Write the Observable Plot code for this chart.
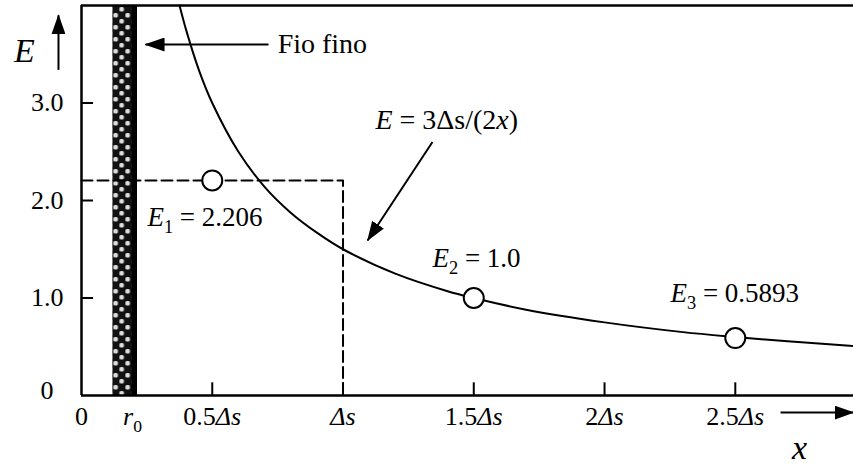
<!DOCTYPE html>
<html>
<head>
<meta charset="utf-8">
<script src="https://cdn.jsdelivr.net/npm/d3@7"></script>
<script src="https://cdn.jsdelivr.net/npm/@observablehq/plot@0.6"></script>
<style>
  body { margin: 0; background: #fff; }
  svg text, svg tspan { font-family: "Liberation Serif", "DejaVu Serif", serif !important; }
</style>
</head>
<body>
<div id="chart"></div>
<script>
// Field E around a thin wire: the curve E = 3Δs/(2x) and three sampled values.
// x is measured in units of Δs.
const curveX = [0.375, 0.4, 0.45, 0.5, 0.6, 0.7, 0.8, 0.9, 1.0, 1.2, 1.4, 1.5, 1.7, 2.0, 2.3, 2.5, 2.7, 2.95];
const curveE = [4.0, 3.75, 3.33, 3.0, 2.5, 2.14, 1.875, 1.67, 1.5, 1.25, 1.07, 1.0, 0.88, 0.75, 0.65, 0.6, 0.556, 0.508];

const sampleX = [0.5, 1.5, 2.5];
const sampleE = [2.206, 1.0, 0.5893];
const sampleLabels = ["*E*_1 = 2.206", "*E*_2 = 1.0", "*E*_3 = 0.5893"];
const sampleLabelX = [0.252, 1.342, 2.252];
const sampleLabelY = [1.83, 1.41, 1.05];

// dashed box: E1 held over the first cell 0..Δs
const boxX = [0, 1, 1];
const boxE = [2.206, 2.206, 0];

// the wire cross-section band
const wireX = [0.12, 0.214];

const xTicks = [0, 0.195, 0.5, 1, 1.5, 2, 2.5];
const xTickLabels = ["0", "*r*_0", "0.5*Δs*", "*Δs*", "1.5*Δs*", "2*Δs*", "2.5*Δs*"];
const xTickMarks = [0.5, 1, 1.5, 2, 2.5];
const yTicks = [1, 2, 3];
const yTickLabels = ["1.0", "2.0", "3.0"];

// annotation arrows: wire label, formula label, E axis, x axis
const arrowX1 = [0.715, 1.342, -0.088, 2.673];
const arrowY1 = [3.6, 2.6, 3.34, -0.175];
const arrowX2 = [0.245, 1.094, -0.088, 2.952];
const arrowY2 = [3.6, 1.59, 3.9, -0.175];

const serif = "Liberation Serif";
const xLabelOf = new Map(xTicks.map((t, i) => [t, xTickLabels[i]]));
const yLabelOf = new Map(yTicks.map((t, i) => [t, yTickLabels[i]]));
const curve = curveX.map((x, i) => ({x, E: curveE[i]}));
const samples = sampleX.map((x, i) => ({x, E: sampleE[i]}));
const sampleText = sampleLabels.map((t, i) => ({t, x: sampleLabelX[i], y: sampleLabelY[i]}));
const box = boxX.map((x, i) => ({x, E: boxE[i]}));
const arrows = arrowX1.map((x1, i) => ({x1, y1: arrowY1[i], x2: arrowX2[i], y2: arrowY2[i]}));

const svg = Plot.plot({
  width: 853,
  height: 468,
  marginLeft: 81,
  marginRight: 0,
  marginTop: 5,
  marginBottom: 73,
  x: {domain: [0, 2.952], axis: null},
  y: {domain: [0, 4], axis: null},
  style: {fontFamily: serif, fontSize: "26px", color: "black", background: "white", overflow: "visible"},
  marks: [
    Plot.rect([{x1: wireX[0], x2: wireX[1]}], {x1: "x1", x2: "x2", y1: 0, y2: 4, fill: "black", ariaDescription: "wire"}),
    Plot.rect([{x1: wireX[1] - 0.022, x2: wireX[1]}], {x1: "x1", x2: "x2", y1: 0, y2: 4, fill: "black"}),
    Plot.ruleY([0, 4], {stroke: "black", strokeWidth: 2.5}),
    Plot.ruleX([0], {y1: 0, y2: 4, stroke: "black", strokeWidth: 2.5}),
    Plot.ruleY(yTicks, {x1: 0, x2: 0.046, stroke: "black", strokeWidth: 2}),
    Plot.ruleX(xTickMarks, {y1: 0, y2: 0.13, stroke: "black", strokeWidth: 2}),
    Plot.axisX(xTicks, {tickSize: 0, tickPadding: 11, tickFormat: d => xLabelOf.get(d), label: null, fontSize: 26, fontFamily: serif}),
    Plot.axisY(yTicks, {tickSize: 0, tickPadding: 18, tickFormat: d => yLabelOf.get(d), label: null, fontSize: 26, fontFamily: serif}),
    Plot.axisY([0], {tickSize: 0, tickPadding: 28, tickFormat: () => "0", label: null, fontSize: 26, fontFamily: serif, dy: -5}),
    Plot.line(box, {x: "x", y: "E", stroke: "black", strokeWidth: 2, strokeDasharray: "11,5"}),
    Plot.line(curve, {x: "x", y: "E", stroke: "black", strokeWidth: 2, curve: "catmull-rom"}),
    Plot.dot(samples, {x: "x", y: "E", r: 10, fill: "white", stroke: "black", strokeWidth: 2}),
    Plot.text(sampleText, {x: "x", y: "y", text: "t", textAnchor: "start", fontSize: 27, fontFamily: serif}),
    Plot.text(["Fio fino"], {x: 0.75, y: 3.6, textAnchor: "start", fontSize: 28, fontFamily: serif}),
    Plot.text(["*E* = 3Δs/(2*x*)"], {x: 1.124, y: 2.83, textAnchor: "start", fontSize: 28, fontFamily: serif}),
    Plot.text(["E"], {x: -0.218, y: 3.53, fontSize: 34, fontStyle: "italic", fontFamily: serif}),
    Plot.text(["x"], {x: 2.746, y: -0.54, fontSize: 34, fontStyle: "italic", fontFamily: serif}),
    Plot.link(arrows, {x1: "x1", y1: "y1", x2: "x2", y2: "y2", stroke: "black", strokeWidth: 2, ariaDescription: "arrows"})
  ]
});

// Shared defs: filled arrowhead and the checkered wire fill
const defs = d3.select(svg).insert("defs", ":first-child");
defs.append("marker")
  .attr("id", "head")
  .attr("viewBox", "0 0 20 14")
  .attr("refX", 19).attr("refY", 7)
  .attr("markerWidth", 20).attr("markerHeight", 14)
  .attr("markerUnits", "userSpaceOnUse")
  .attr("orient", "auto")
  .append("path").attr("d", "M0,0L20,7L0,14Z").attr("fill", "black");
const wireLeft = svg.scale("x").apply(wireX[0]);
const pat = defs.append("pattern")
  .attr("id", "wire-checks")
  .attr("patternUnits", "userSpaceOnUse")
  .attr("x", wireLeft).attr("y", 0)
  .attr("width", 12).attr("height", 12);
pat.append("rect").attr("width", 12).attr("height", 12).attr("fill", "#111");
pat.append("rect").attr("x", 1).attr("y", 1).attr("width", 4.5).attr("height", 4.5).attr("rx", 1.5).attr("fill", "#ddd");
pat.append("rect").attr("x", 7).attr("y", 7).attr("width", 4.5).attr("height", 4.5).attr("rx", 1.5).attr("fill", "#ddd");

const root = d3.select(svg);
root.attr("font-family", serif);
root.selectAll('g[aria-description="wire"] rect').attr("fill", "url(#wire-checks)");
root.selectAll('g[aria-label="link"] path').attr("marker-end", "url(#head)");

// Light markup in labels: *italic* and _subscript (one character)
function setRich(el, src) {
  const size = parseFloat(el.getAttribute("font-size")) ||
    parseFloat(el.parentNode.getAttribute("font-size")) || 26;
  const sel = d3.select(el);
  sel.text(null);
  const re = /\*([^*]+)\*|_(.)|([^*_]+)/g;
  let m, shift = 0;
  while ((m = re.exec(src))) {
    const t = sel.append("tspan");
    if (m[2]) {
      shift = size * 0.28;
      t.attr("font-size", size * 0.68).attr("dy", shift).text(m[2]);
      continue;
    }
    if (m[1]) t.attr("font-style", "italic").text(m[1]);
    else t.text(m[3]);
    if (shift) { t.attr("dy", -shift); shift = 0; }
  }
}
root.selectAll("text").each(function () {
  const s = this.textContent;
  if (/[*_]/.test(s)) setRich(this, s);
});

document.getElementById("chart").append(svg);
</script>
</body>
</html>
